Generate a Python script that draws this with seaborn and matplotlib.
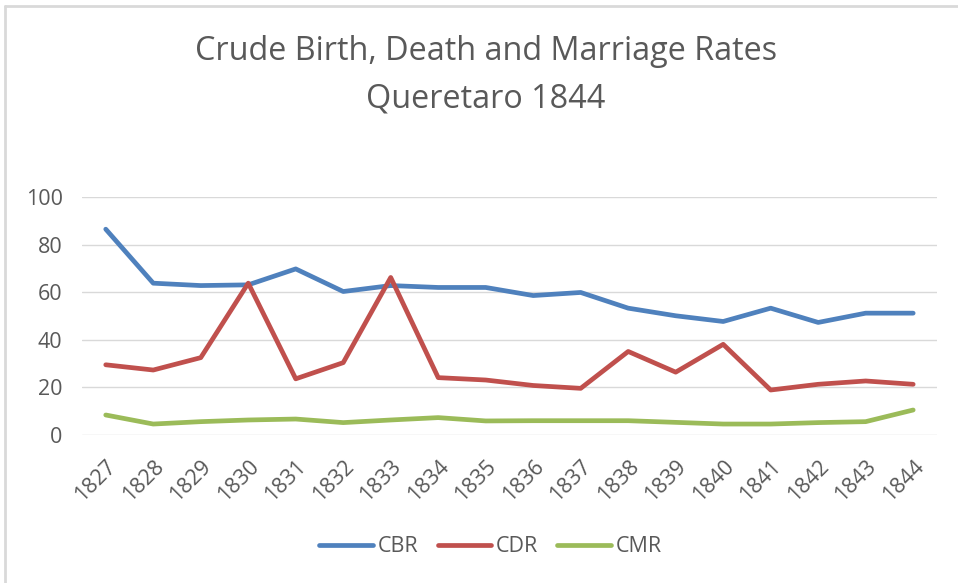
import matplotlib
matplotlib.use("Agg")
import matplotlib.pyplot as plt
from matplotlib.lines import Line2D
import seaborn as sns
import pandas as pd

years = [str(y) for y in range(1827, 1845)]
cbr = [86.5, 63.8, 62.8, 63.1, 69.8, 60.3, 62.8, 62.0, 62.0, 58.6, 59.9, 53.3, 50.1, 47.7, 53.3, 47.3, 51.2, 51.2]
cdr = [29.5, 27.3, 32.5, 63.8, 23.6, 30.4, 66.2, 24.1, 23.1, 20.8, 19.6, 35.1, 26.4, 38.1, 18.9, 21.3, 22.7, 21.3]
cmr = [8.4, 4.6, 5.6, 6.3, 6.7, 5.2, 6.3, 7.3, 5.9, 6.0, 6.0, 6.0, 5.3, 4.6, 4.6, 5.2, 5.6, 10.5]
series = ["CBR", "CDR", "CMR"]
colors = ["#4F81BD", "#C0504D", "#9BBB59"]

df = pd.DataFrame({"year": years * 3,
                   "rate": cbr + cdr + cmr,
                   "series": [s for s in series for _ in years]})

sns.set_style("white")
plt.rcParams["font.family"] = ["Open Sans", "DejaVu Sans"]
gray = "#595959"

fig = plt.figure(figsize=(9.58, 5.83), dpi=100)
ax = fig.add_axes([0.0856, 0.2539, 0.8924, 0.4081])

sns.lineplot(data=df, x="year", y="rate", hue="series", palette=colors,
             linewidth=3.4, sort=False, legend=False, ax=ax)

ax.set_xlim(-0.5, len(years) - 0.5)
ax.set_ylim(0, 100)
ax.set_yticks(range(0, 101, 20))
ax.grid(axis="y", color="#D9D9D9", linewidth=1)
ax.set_axisbelow(True)
for s in ax.spines.values():
    s.set_visible(False)
ax.set_xlabel("")
ax.set_ylabel("")
ax.tick_params(axis="both", length=0, labelsize=15.5, labelcolor=gray)
ax.tick_params(axis="y", pad=14)
ax.tick_params(axis="x", pad=15)
for lab in ax.get_xticklabels():
    lab.set_rotation(45)
    lab.set_ha("right")
    lab.set_rotation_mode("anchor")

fig.text(0.507, 0.912, "Crude Birth, Death and Marriage Rates", ha="center", va="center",
         fontsize=23.3, color=gray)
fig.text(0.507, 0.831, "Queretaro 1844", ha="center", va="center",
         fontsize=23.3, color=gray)

handles = [Line2D([], [], color=c, linewidth=3.4) for c in colors]
fig.legend(handles, series, loc="center", bbox_to_anchor=(0.512, 0.062), ncol=3,
           frameon=False, fontsize=15.5, labelcolor=gray, handlelength=2.5,
           handletextpad=0.2, columnspacing=0.9)

# chart border (left and top edges visible)
fig.add_artist(Line2D([5 / 958, 5 / 958], [0, 1 - 6 / 583], transform=fig.transFigure,
                      color="#D9D9D9", linewidth=2))
fig.add_artist(Line2D([5 / 958, 1], [1 - 6 / 583, 1 - 6 / 583], transform=fig.transFigure,
                      color="#D9D9D9", linewidth=2))

fig.savefig("out.png", dpi=100)
